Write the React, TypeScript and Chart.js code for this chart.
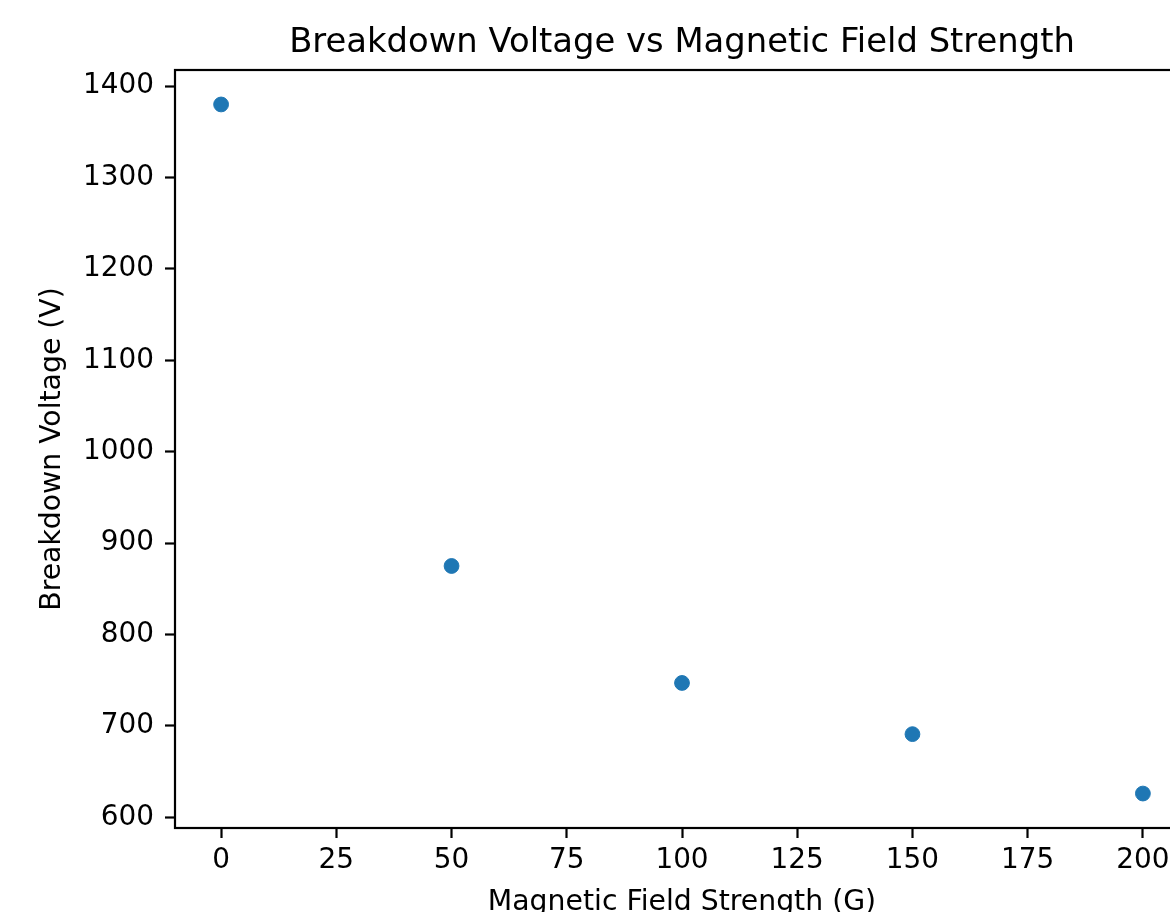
import React, { useEffect, useRef } from "react";
import { Chart, registerables } from "chart.js";

Chart.register(...registerables);

const fieldStrength = [0, 50, 100, 150, 200];
const breakdownVoltage = [1380, 875, 747, 691, 626];
const xTickValues = [0, 25, 50, 75, 100, 125, 150, 175, 200];
const yTickValues = [600, 700, 800, 900, 1000, 1100, 1200, 1300, 1400];

const titleText = "Breakdown Voltage vs Magnetic Field Strength";
const xLabel = "Magnetic Field Strength (G)";
const yLabel = "Breakdown Voltage (V)";

const FONT = "'DejaVu Sans', sans-serif";
const W = 1364;
const H = 960;

function margins(values: number[]) {
  const mn = Math.min(...values);
  const mx = Math.max(...values);
  const r = mx - mn;
  return { min: mn - 0.05 * r, max: mx + 0.05 * r };
}

const frame = {
  id: "frame",
  afterDatasetsDraw(chart: any) {
    const { ctx, chartArea } = chart;
    ctx.save();
    ctx.strokeStyle = "#000";
    ctx.lineWidth = 2.2;
    ctx.strokeRect(chartArea.left, chartArea.top, chartArea.right - chartArea.left, chartArea.bottom - chartArea.top);
    ctx.fillStyle = "#000";
    ctx.font = `normal 33.8px ${FONT}`;
    ctx.textAlign = "center";
    ctx.textBaseline = "alphabetic";
    ctx.fillText(titleText, (chartArea.left + chartArea.right) / 2, 52);
    ctx.restore();
  },
};

export default function App() {
  const ref = useRef<HTMLCanvasElement | null>(null);
  useEffect(() => {
    if (!ref.current) return;
    const xr = margins(fieldStrength);
    const yr = margins(breakdownVoltage);
    const chart = new Chart(ref.current, {
      type: "scatter",
      data: {
        datasets: [
          {
            data: fieldStrength.map((x, i) => ({ x, y: breakdownVoltage[i] })),
            backgroundColor: "#1f77b4",
            borderColor: "#1f77b4",
            borderWidth: 1,
            pointRadius: 7.4,
            pointHoverRadius: 7.4,
          },
        ],
      },
      options: {
        responsive: false,
        animation: false,
        events: [],
        layout: { padding: { left: 0, right: W - 1189, top: 70, bottom: 0 } },
        plugins: {
          legend: { display: false },
          tooltip: { enabled: false },
          title: { display: false },
        },
        scales: {
          x: {
            type: "linear",
            min: xr.min,
            max: xr.max,
            border: { display: false },
            grid: {
              display: true,
              drawOnChartArea: false,
              drawTicks: true,
              tickLength: 10,
              tickWidth: 2.2,
              tickColor: "#000",
            },
            afterBuildTicks: (s: any) => {
              s.ticks = xTickValues.map((v) => ({ value: v }));
            },
            afterFit: (s: any) => {
              s.height = H - 828;
            },
            ticks: {
              color: "#000",
              padding: 6,
              maxRotation: 0,
              autoSkip: false,
              font: { family: FONT, size: 27.9 },
              callback: (v: any) => String(v),
            },
            title: {
              display: true,
              text: xLabel,
              color: "#000",
              font: { family: FONT, size: 28.3 },
              padding: { top: 0, bottom: 40 },
            },
          },
          y: {
            type: "linear",
            min: yr.min,
            max: yr.max,
            border: { display: false },
            grid: {
              display: true,
              drawOnChartArea: false,
              drawTicks: true,
              tickLength: 10,
              tickWidth: 2.2,
              tickColor: "#000",
            },
            afterBuildTicks: (s: any) => {
              s.ticks = yTickValues.map((v) => ({ value: v }));
            },
            afterFit: (s: any) => {
              s.width = 175;
            },
            ticks: {
              color: "#000",
              padding: 11,
              autoSkip: false,
              font: { family: FONT, size: 27.9 },
              callback: (v: any) => String(v),
            },
            title: {
              display: true,
              text: yLabel,
              color: "#000",
              font: { family: FONT, size: 28.3 },
              padding: { top: 36, bottom: 0 },
            },
          },
        },
      },
      plugins: [frame],
    });
    return () => chart.destroy();
  }, []);
  return (
    <div style={{ position: "fixed", left: 0, top: 0, width: "100vw", height: "100vh", overflow: "hidden", background: "#fff" }}>
      <canvas ref={ref} width={W} height={H} style={{ display: "block", width: W, height: H }} />
    </div>
  );
}
